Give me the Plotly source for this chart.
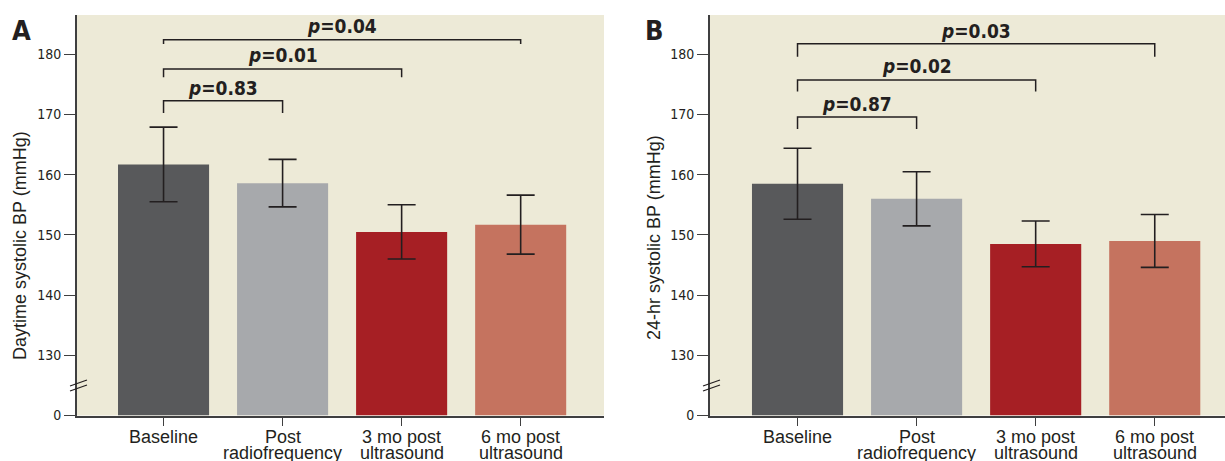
import plotly.graph_objects as go

# ---------------- data ----------------
categories = ["Baseline", "Post radiofrequency", "3 mo post ultrasound", "6 mo post ultrasound"]
label_line1 = ["Baseline", "Post", "3 mo post", "6 mo post"]
label_line2 = ["", "radiofrequency", "ultrasound", "ultrasound"]

day_mean = [161.7, 158.6, 150.5, 151.7]
day_err = [6.2, 3.95, 4.5, 4.9]
hr24_mean = [158.5, 156.0, 148.5, 149.0]
hr24_err = [5.9, 4.5, 3.8, 4.4]

ytick_values = [0, 130, 140, 150, 160, 170, 180]

# comparisons: (from bar 0 to bar k, p-label, bracket top, leg bottom, text level)
day_comp_to = [1, 2, 3]
day_p = ["0.83", "0.01", "0.04"]
day_top = [172.3, 177.55, 182.4]
day_leg = [170.25, 176.2, 181.7]
day_txt = [174.4, 179.9, 184.75]

hr24_comp_to = [1, 2, 3]
hr24_p = ["0.87", "0.02", "0.03"]
hr24_top = [169.6, 175.75, 181.75]
hr24_leg = [167.6, 173.8, 179.6]
hr24_txt = [171.7, 178.0, 183.8]

bar_colors = ["#58595B", "#A7A9AC", "#A61F24", "#C5735F"]
bg = "#EDEAD7"
ink = "#231F20"
narrow = "Liberation Sans Narrow, DejaVu Sans Condensed, Arial Narrow, sans-serif"
regular = "Liberation Sans, Arial, Helvetica, sans-serif"

W, H = 1225, 461
BREAK_OFFSET = 120  # display coord = value - 120 for values >= 130


def disp(v):
    return 0 if v == 0 else v - BREAK_OFFSET


def py(pix):
    return 1 - pix / H


def px(pix):
    return pix / W


fig = go.Figure()

panels = [
    dict(mean=day_mean, err=day_err, to=day_comp_to, p=day_p, top=day_top, leg=day_leg, txt=day_txt,
         xa="x", ya="y", dom=[px(77), px(604)], rng=[-0.727, 3.70], axis_px=77,
         letter="A", letter_x=21.5, title="Daytime systolic BP (mmHg)", title_x=20, title_y=246),
    dict(mean=hr24_mean, err=hr24_err, to=hr24_comp_to, p=hr24_p, top=hr24_top, leg=hr24_leg, txt=hr24_txt,
         xa="x2", ya="y2", dom=[px(710), 1.0], rng=[-0.735, 3.59], axis_px=710,
         letter="B", letter_x=654, title="24-hr systolic BP (mmHg)", title_x=654, title_y=238),
]

annotations = []
shapes = []
ydom = [py(415.5), py(15)]
yrange = [0, 400.5 / 6.02]

for i, pn in enumerate(panels):
    xs = list(range(len(categories)))
    fig.add_trace(go.Bar(
        x=xs, y=[disp(v) for v in pn["mean"]], base=0,
        marker=dict(color=bar_colors, line=dict(width=0)),
        width=0.765,
        error_y=dict(type="data", array=pn["err"], symmetric=True, color=ink, thickness=1.6, width=14),
        xaxis=pn["xa"], yaxis=pn["ya"], showlegend=False, hoverinfo="skip",
    ))
    # brackets
    for j, t in enumerate(pn["to"]):
        fig.add_trace(go.Scatter(
            x=[0, 0, t, t],
            y=[disp(pn["leg"][j]), disp(pn["top"][j]), disp(pn["top"][j]), disp(pn["leg"][j])],
            mode="lines", line=dict(color=ink, width=1.5),
            xaxis=pn["xa"], yaxis=pn["ya"], showlegend=False, hoverinfo="skip",
        ))
        annotations.append(dict(
            x=t / 2, y=disp(pn["txt"][j]), xref=pn["xa"], yref=pn["ya"],
            text="<b><i>p</i>=" + pn["p"][j] + "</b>", showarrow=False,
            font=dict(family=narrow, size=19, color=ink), xanchor="center", yanchor="middle",
        ))
    # category labels (two tight lines)
    for k in xs:
        annotations.append(dict(x=k, y=py(436.7), xref=pn["xa"], yref="paper", text=label_line1[k],
                                showarrow=False, font=dict(family=regular, size=18, color=ink),
                                xanchor="center", yanchor="middle"))
        if label_line2[k]:
            annotations.append(dict(x=k, y=py(452.7), xref=pn["xa"], yref="paper", text=label_line2[k],
                                    showarrow=False, font=dict(family=regular, size=18, color=ink),
                                    xanchor="center", yanchor="middle"))
    # panel letter
    annotations.append(dict(x=px(pn["letter_x"]), y=py(30.2), xref="paper", yref="paper",
                            text="<b>" + pn["letter"] + "</b>", showarrow=False,
                            font=dict(family=narrow, size=27, color=ink), xanchor="center", yanchor="middle"))
    # y title
    annotations.append(dict(x=px(pn["title_x"]), y=py(pn["title_y"]), xref="paper", yref="paper",
                            text=pn["title"], textangle=-90, showarrow=False,
                            font=dict(family=regular, size=18, color=ink), xanchor="center", yanchor="middle"))
    # axis break marks
    a = pn["axis_px"]
    for dy in [0, 5]:
        shapes.append(dict(type="line", xref="paper", yref=pn["ya"],
                           x0=px(a - 7), x1=px(a + 10),
                           y0=(415.5 - (386 + dy)) / 6.02, y1=(415.5 - (380 + dy)) / 6.02,
                           line=dict(color=ink, width=1.3)))

    axis_common = dict(showline=True, linecolor="#3F3F40", linewidth=1.8, ticks="outside",
                       tickcolor="#3F3F40", tickwidth=1.3, showgrid=False, zeroline=False,
                       fixedrange=True, automargin=False)
    xkey = "xaxis" if i == 0 else "xaxis2"
    ykey = "yaxis" if i == 0 else "yaxis2"
    fig.update_layout(**{
        xkey: dict(domain=pn["dom"], range=pn["rng"], anchor=pn["ya"], tickvals=xs,
                   showticklabels=False, ticklen=9, **axis_common),
        ykey: dict(domain=ydom, range=yrange, anchor=pn["xa"],
                   tickvals=[disp(v) for v in ytick_values], ticktext=[str(v) for v in ytick_values],
                   ticklen=11, tickfont=dict(family=narrow, size=14, color=ink), **axis_common),
    })

fig.update_layout(
    width=W, height=H, autosize=False,
    margin=dict(l=0, r=0, t=0, b=0, autoexpand=False),
    paper_bgcolor="white", plot_bgcolor=bg,
    annotations=annotations, shapes=shapes,
    bargap=0.2,
)

fig.write_html(
    "out.html",
    config={"displayModeBar": False},
    post_script="document.body.style.margin='0';document.body.style.overflow='hidden';",
)
